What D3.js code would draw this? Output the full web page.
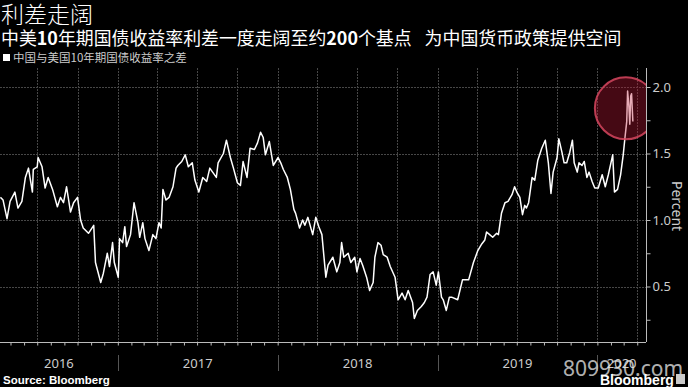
<!DOCTYPE html>
<html>
<head>
<meta charset="utf-8">
<script src="https://cdn.jsdelivr.net/npm/d3@7"></script>
<style>
  body { margin: 0; background: #000; }
  svg { display: block; }
</style>
</head>
<body>
<svg></svg>
<script>
// China minus US 10-year yield spread
const dates = [
  "2016-04-08","2016-04-14","2016-04-23","2016-04-30","2016-05-11","2016-05-18","2016-05-27","2016-06-04",
  "2016-06-11","2016-06-20","2016-06-22","2016-07-01","2016-07-03","2016-07-12","2016-07-19","2016-07-26",
  "2016-08-05","2016-08-16","2016-08-23","2016-08-30","2016-09-06","2016-09-15","2016-09-22","2016-10-01",
  "2016-10-08","2016-10-14","2016-10-26","2016-11-07","2016-11-11","2016-11-23","2016-11-29","2016-12-08",
  "2016-12-13","2016-12-20","2016-12-24","2017-01-02","2017-01-05","2017-01-12","2017-01-17","2017-01-21",
  "2017-01-30","2017-02-07","2017-02-16","2017-02-20","2017-02-27","2017-03-04","2017-03-13","2017-03-22",
  "2017-03-29","2017-04-05","2017-04-10","2017-04-14","2017-04-21","2017-04-28","2017-05-07","2017-05-14",
  "2017-05-18","2017-05-27","2017-06-04","2017-06-11","2017-06-20","2017-06-26","2017-07-05","2017-07-14",
  "2017-07-23","2017-07-30","2017-08-14","2017-08-18","2017-08-30","2017-09-06","2017-09-15","2017-09-22",
  "2017-10-01","2017-10-08","2017-10-14","2017-10-23","2017-10-30","2017-11-09","2017-11-16","2017-11-23",
  "2017-11-29","2017-12-04","2017-12-13","2017-12-22","2018-01-02","2018-01-08","2018-01-14","2018-01-23",
  "2018-01-30","2018-02-07","2018-02-11","2018-02-20","2018-02-27","2018-03-04","2018-03-11","2018-03-22",
  "2018-03-29","2018-04-05","2018-04-12","2018-04-21","2018-04-26","2018-05-07","2018-05-16","2018-05-23",
  "2018-05-27","2018-06-01","2018-06-11","2018-06-17","2018-06-26","2018-07-01","2018-07-08","2018-07-14",
  "2018-07-23","2018-07-30","2018-08-07","2018-08-11","2018-08-18","2018-08-25","2018-08-30","2018-09-08",
  "2018-09-15","2018-09-26","2018-10-03","2018-10-12","2018-10-19","2018-10-26","2018-11-05","2018-11-09",
  "2018-11-16","2018-11-25","2018-12-02","2018-12-08","2018-12-15","2018-12-22","2018-12-29","2019-01-03",
  "2019-01-10","2019-01-14","2019-01-21","2019-01-28","2019-02-02","2019-02-16","2019-02-27","2019-03-13",
  "2019-03-24","2019-04-03","2019-04-12","2019-04-19","2019-04-23","2019-04-30","2019-05-07","2019-05-16",
  "2019-05-20","2019-05-27","2019-06-04","2019-06-11","2019-06-20","2019-06-26","2019-07-01","2019-07-08",
  "2019-07-14","2019-07-19","2019-07-23","2019-07-28","2019-08-05","2019-08-11","2019-08-18","2019-08-27",
  "2019-09-04","2019-09-11","2019-09-17","2019-09-22","2019-10-01","2019-10-05","2019-10-12","2019-10-17",
  "2019-10-23","2019-10-30","2019-11-05","2019-11-09","2019-11-16","2019-11-20","2019-11-27","2019-12-02",
  "2019-12-08","2019-12-13","2019-12-20","2019-12-26","2020-01-03","2020-01-12","2020-01-19","2020-01-26",
  "2020-02-05","2020-02-09","2020-02-16","2020-02-23","2020-02-29","2020-03-04","2020-03-08","2020-03-10",
  "2020-03-13","2020-03-15","2020-03-17","2020-03-19","2020-03-22"
];
const spread = [
  1.17,1.15,1.01,1.14,1.21,1.09,1.14,1.32,
  1.39,1.21,1.38,1.40,1.47,1.40,1.24,1.32,
  1.23,1.10,1.17,1.13,1.25,1.06,1.13,1.17,
  1.00,0.94,0.90,0.96,0.68,0.53,0.60,0.75,
  0.65,0.83,0.68,0.57,0.86,0.83,0.95,0.80,
  0.89,1.13,0.98,0.87,0.98,0.86,0.77,0.89,
  0.86,0.98,0.94,1.23,1.15,1.17,1.25,1.39,
  1.41,1.44,1.49,1.40,1.43,1.30,1.21,1.32,
  1.29,1.39,1.32,1.43,1.50,1.60,1.47,1.39,
  1.28,1.26,1.44,1.32,1.54,1.53,1.58,1.66,
  1.62,1.49,1.59,1.41,1.47,1.43,1.38,1.32,
  1.23,1.08,1.05,0.94,1.00,0.96,1.02,0.89,
  1.02,0.95,0.89,0.57,0.66,0.72,0.61,0.68,
  0.83,0.72,0.75,0.68,0.72,0.61,0.71,0.66,
  0.57,0.47,0.53,0.72,0.83,0.81,0.74,0.72,
  0.65,0.57,0.40,0.45,0.40,0.47,0.38,0.26,
  0.32,0.35,0.38,0.42,0.59,0.61,0.51,0.61,
  0.42,0.40,0.32,0.42,0.42,0.40,0.55,0.55,
  0.68,0.77,0.82,0.85,0.91,0.89,0.87,0.90,
  0.89,1.05,1.13,1.14,1.19,1.25,1.21,1.17,
  1.04,1.11,1.09,1.13,1.32,1.30,1.45,1.54,
  1.60,1.43,1.20,1.36,1.47,1.61,1.51,1.43,
  1.43,1.51,1.60,1.43,1.36,1.43,1.41,1.44,
  1.32,1.36,1.29,1.24,1.24,1.34,1.25,1.34,
  1.49,1.21,1.23,1.34,1.49,1.62,1.74,1.97,
  1.85,1.72,1.93,1.95,1.74
];
const yTicks = [0.25, 0.5, 0.75, 1.0, 1.25, 1.5, 1.75, 2.0];
const yGrid = [0.5, 1.0, 1.5, 2.0];
const xDomain = ["2016-04-07", "2020-04-21"];
const highlight = {date: "2020-03-06", value: 1.84};

const title = "利差走阔";
const subtitle = [["中美", false], ["10", true], ["年期国债收益率利差一度走阔至约", false], ["200", true], ["个基点\u2002 为中国货币政策提供空间", false]];
const legendLabel = "中国与美国10年期国债收益率之差";

const width = 688, height = 387;
const svg = d3.select("svg").attr("width", width).attr("height", height);
svg.append("rect").attr("width", width).attr("height", height).attr("fill", "#000");

const parse = d3.timeParse("%Y-%m-%d");
const data = dates.map((d, i) => ({date: parse(d), value: spread[i]}));

// plot area
const plot = {left: 0, right: 646, top: 68, bottom: 342};
const cjk = "'Noto Sans CJK SC', 'Noto Sans', sans-serif";
const latin = "'Noto Sans', 'Open Sans', sans-serif";

const x = d3.scaleTime().domain(xDomain.map(parse)).range([plot.left, plot.right]);
const y = d3.scaleLinear().domain([0, 2]).range([353, 87]);

svg.append("defs").append("clipPath").attr("id", "plot-clip")
  .append("rect")
  .attr("x", plot.left).attr("y", plot.top)
  .attr("width", plot.right - plot.left).attr("height", plot.bottom - plot.top);

// gridlines
const quarters = d3.timeMonth.every(3).range(x.domain()[0], x.domain()[1]);
svg.append("g").selectAll("line").data(quarters).join("line")
  .attr("x1", d => Math.round(x(d)) + 0.5).attr("x2", d => Math.round(x(d)) + 0.5)
  .attr("y1", plot.top).attr("y2", plot.bottom)
  .attr("stroke", "#474747").attr("stroke-dasharray", "2,1");

svg.append("g").selectAll("line").data(yGrid).join("line")
  .attr("x1", plot.left).attr("x2", plot.right)
  .attr("y1", d => Math.round(y(d)) + 0.5).attr("y2", d => Math.round(y(d)) + 0.5)
  .attr("stroke", "#474747").attr("stroke-dasharray", "2,1");

// the spread line
svg.append("path")
  .datum(data)
  .attr("clip-path", "url(#plot-clip)")
  .attr("fill", "none")
  .attr("stroke", "#fff")
  .attr("stroke-width", 1.5)
  .attr("stroke-linejoin", "round")
  .attr("d", d3.line().x(d => x(d.date)).y(d => y(d.value)));

// highlight circle over the latest spike
svg.append("circle")
  .attr("clip-path", "url(#plot-clip)")
  .attr("cx", x(parse(highlight.date)))
  .attr("cy", y(highlight.value))
  .attr("r", 31)
  .attr("fill", "rgba(190,25,55,0.36)")
  .attr("stroke", "rgba(215,70,95,0.85)")
  .attr("stroke-width", 2);

// right axis
const yAxis = svg.append("g")
  .attr("transform", `translate(${plot.right + 0.5},0)`)
  .call(d3.axisRight(y).tickValues(yTicks).tickSize(4).tickPadding(2)
    .tickFormat(d => (d * 2) % 1 === 0 ? d.toFixed(1) : ""));
yAxis.select(".domain").attr("d", `M0,${plot.top}V${plot.bottom}`).attr("stroke", "#bbb");
yAxis.selectAll(".tick line").attr("stroke", "#bbb");
yAxis.selectAll("text").attr("fill", "#ccc").style("font-family", latin).style("font-size", "13px");

svg.append("text")
  .attr("transform", `translate(672,206) rotate(90)`)
  .attr("text-anchor", "middle")
  .attr("fill", "#ccc")
  .style("font-family", latin)
  .style("font-size", "14px")
  .text("Percent");

// bottom axis with monthly ticks
const xAxis = svg.append("g")
  .attr("transform", `translate(0,${plot.bottom + 0.5})`)
  .call(d3.axisBottom(x).ticks(d3.timeMonth.every(1)).tickSize(3).tickFormat(""));
xAxis.select(".domain").attr("d", `M${plot.left},0H${plot.right}`).attr("stroke", "#bbb");
xAxis.selectAll(".tick line").attr("stroke", "#bbb");

const yearStarts = d3.timeYear.range(x.domain()[0], x.domain()[1]);
svg.append("g").selectAll("line").data(yearStarts).join("line")
  .attr("x1", d => Math.round(x(d)) + 0.5).attr("x2", d => Math.round(x(d)) + 0.5)
  .attr("y1", 355).attr("y2", 371)
  .attr("stroke", "#555");

const yearBands = d3.timeYear.range(d3.timeYear.floor(x.domain()[0]), x.domain()[1]).map(d => {
  const a = Math.max(x(d), plot.left);
  const b = Math.min(x(d3.timeYear.offset(d, 1)), plot.right);
  return {label: d3.timeFormat("%Y")(d), mid: (a + b) / 2};
});
svg.append("g").selectAll("text").data(yearBands).join("text")
  .attr("x", d => d.mid).attr("y", 368)
  .attr("text-anchor", "middle")
  .attr("fill", "#ccc")
  .style("font-family", latin)
  .style("font-size", "13px")
  .text(d => d.label);

// titles
svg.append("text")
  .attr("x", 1).attr("y", 23)
  .attr("fill", "#fff")
  .style("font-family", cjk)
  .style("font-size", "23px")
  .style("font-weight", 300)
  .text(title);

const sub = svg.append("text")
  .attr("x", 1).attr("y", 45)
  .attr("fill", "#fff")
  .style("font-family", cjk)
  .style("font-size", "17.9px")
  .attr("xml:space", "preserve");
subtitle.forEach(([t, bold]) => {
  sub.append("tspan").style("font-weight", bold ? 700 : 400).text(t);
});

svg.append("rect").attr("x", 3).attr("y", 54).attr("width", 7).attr("height", 7).attr("fill", "#fff");
svg.append("text")
  .attr("x", 13).attr("y", 62)
  .attr("fill", "#ccc")
  .style("font-family", cjk)
  .style("font-size", "11.5px")
  .text(legendLabel);

// footer
svg.append("text")
  .attr("x", 3).attr("y", 384)
  .attr("fill", "#fff")
  .style("font-family", "'Liberation Sans', sans-serif")
  .style("font-size", "11.5px")
  .style("font-weight", 700)
  .text("Source: Bloomberg");

svg.append("text")
  .attr("x", 563).attr("y", 376)
  .attr("fill", "rgba(225,225,225,0.8)")
  .style("font-family", latin)
  .style("font-size", "21px")
  .text("809930.com");

svg.append("text")
  .attr("x", 600).attr("y", 385)
  .attr("fill", "#fff")
  .style("font-family", "'Liberation Sans', sans-serif")
  .style("font-size", "14px")
  .style("font-weight", 700)
  .text("Bloomberg");
svg.append("rect").attr("x", 676).attr("y", 374).attr("width", 9).attr("height", 10).attr("fill", "#ccc");
</script>
</body>
</html>
